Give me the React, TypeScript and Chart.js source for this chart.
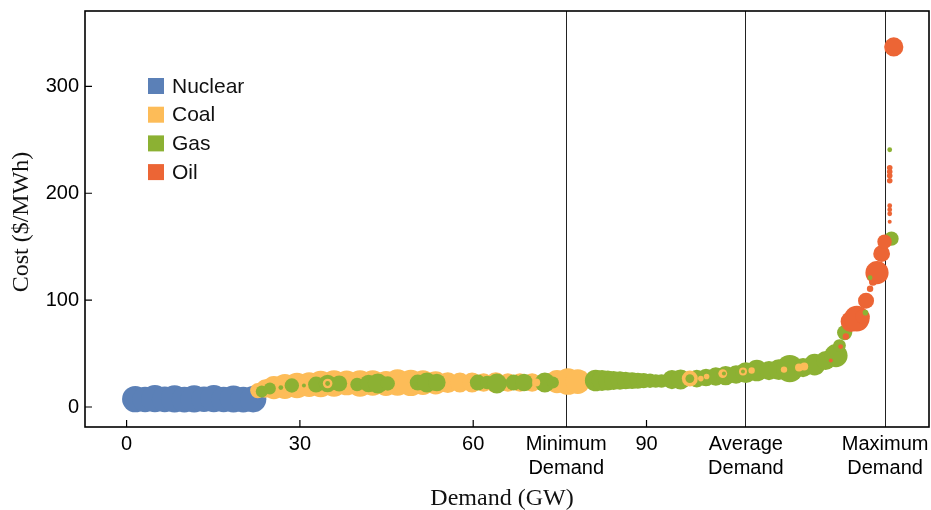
import React, { useEffect, useRef } from "react";
import { Chart, registerables } from "chart.js";

Chart.register(...registerables);

// ---------- data (x: cumulative demand GW, y: cost $/MWh, cap: unit capacity GW) ----------
const nuclearX = [1.5, 3.2, 4.9, 6.6, 8.3, 10.0, 11.7, 13.4, 15.1, 16.8, 18.5, 20.2, 21.9];
const nuclearY = [7.4, 7.0, 7.8, 7.1, 7.7, 6.9, 7.6, 7.2, 7.9, 7.0, 7.5, 6.9, 7.3];
const nuclearCap = [1.65, 1.6, 1.7, 1.6, 1.7, 1.6, 1.7, 1.6, 1.7, 1.6, 1.7, 1.6, 1.65];

const coalX = [22.7, 24.0, 25.5, 27.4, 29.5, 31.6, 33.6, 35.9, 38.1, 40.4, 42.6, 44.9, 46.9, 49.2, 51.3, 53.5, 55.6, 57.7, 59.8, 61.8, 63.9, 66.0, 68.1, 70.2, 72.4, 74.5, 76.4, 78.1];
const coalY = [15.4, 17.3, 18.2, 19.2, 20.1, 21.0, 21.5, 22.0, 22.5, 22.0, 22.4, 22.0, 22.9, 22.6, 22.9, 22.6, 22.9, 22.9, 22.9, 22.9, 22.9, 22.9, 22.9, 22.9, 22.9, 23.8, 23.8, 23.8];
const coalCap = [0.95, 1.15, 1.45, 1.55, 1.6, 1.55, 1.65, 1.65, 1.55, 1.65, 1.6, 1.55, 1.65, 1.65, 1.55, 1.45, 1.3, 1.25, 1.25, 1.15, 1.3, 1.15, 1.15, 1.15, 1.15, 1.45, 1.65, 1.55];

const gasX = [23.4, 24.8, 26.7, 28.6, 30.7, 32.8, 34.8, 36.8, 39.9, 41.9, 43.5, 45.2, 50.4, 52.0, 53.7, 60.8, 62.4, 64.1, 67.0, 68.8, 72.4, 73.8,
  81.2, 82.3, 83.3, 84.3, 85.4, 86.4, 87.5, 88.5, 89.5, 90.6, 91.6, 92.6,
  94.4, 95.9, 98.7, 100.3, 102.0, 103.7, 105.5, 107.2, 109.1, 111.2, 112.9, 114.8, 117.1, 119.1, 121.0, 122.8,
  123.4, 124.3, 125.0, 126.0, 126.9, 132.4, 132.1];
const gasY = [14.5, 17.3, 18.2, 20.1, 20.1, 21.0, 22.0, 22.0, 21.0, 22.0, 22.0, 22.0, 22.9, 22.9, 22.9, 22.9, 22.9, 22.0, 22.9, 22.9, 22.9, 22.9,
  24.8, 24.8, 24.8, 24.8, 24.8, 24.8, 24.6, 24.6, 24.6, 24.6, 24.4, 24.4,
  25.7, 25.7, 26.6, 27.6, 28.5, 29.4, 30.4, 32.2, 34.1, 34.1, 35.0, 36.0, 36.9, 39.7, 43.5, 48.1,
  57.5, 69.6, 79.0, 85.5, 88.3, 157.5, 240.7];
const gasCap = [0.75, 0.75, 0.3, 0.9, 0.25, 1.0, 1.1, 1.0, 0.85, 1.1, 1.25, 0.9, 1.0, 1.25, 1.1, 1.0, 0.85, 1.25, 1.0, 1.1, 1.25, 0.75,
  1.35, 1.3, 1.25, 1.2, 1.15, 1.1, 1.05, 1.0, 0.95, 0.9, 0.85, 0.85,
  1.2, 1.25, 1.1, 1.1, 1.15, 1.2, 1.15, 1.3, 1.35, 1.2, 1.3, 1.7, 1.2, 1.35, 1.2, 1.45,
  0.8, 0.95, 0.65, 0.5, 0.5, 0.9, 0.3];

const coalTopX = [34.8, 70.9, 97.5, 99.4, 100.4, 103.2, 106.7, 108.2, 113.8, 116.4, 117.3];
const coalTopY = [22.0, 22.9, 26.6, 26.6, 28.5, 31.3, 33.2, 34.1, 35.0, 36.9, 37.9];
const coalTopCap = [0.6, 0.5, 1.0, 0.35, 0.35, 0.55, 0.5, 0.4, 0.4, 0.5, 0.5];

const oilX = [121.9, 123.6, 124.5, 125.4, 126.4, 127.4, 128.0, 128.7, 129.2, 129.9, 130.7, 131.2, 132.1, 132.1, 132.1, 132.1, 132.1, 132.1, 132.1, 132.1, 132.8];
const oilY = [43.5, 56.5, 65.9, 79.9, 82.7, 84.6, 99.5, 110.7, 117.3, 125.7, 143.5, 154.7, 173.4, 180.8, 184.6, 188.3, 211.7, 216.4, 220.1, 223.8, 336.9];
const oilCap = [0.25, 0.3, 0.4, 1.3, 1.6, 0.9, 1.0, 0.4, 0.5, 1.45, 1.05, 0.9, 0.25, 0.3, 0.3, 0.3, 0.35, 0.35, 0.35, 0.35, 1.2];

const gasTopX = [34.8, 97.5, 103.4, 106.7, 74.1, 128.7, 127.9];
const gasTopY = [22.0, 26.6, 31.3, 33.2, 23.8, 121.0, 88.3];
const gasTopCap = [0.3, 0.55, 0.25, 0.25, 0.3, 0.3, 0.35];

const xTickValues = [0, 30, 60, 90];
const yTickValues = [0, 100, 200, 300];
const demandMarks = [76.1, 107.2, 131.3];
const demandNames = ["Minimum", "Average", "Maximum"];
const legendNames = ["Nuclear", "Coal", "Gas", "Oil"];

// ---------- styles ----------
const RADIUS_PER_GW = 8;
const COLORS = { nuclear: "#5b80b7", coal: "#fdbc58", gas: "#8cb133", oil: "#ec6535" };
const legendColors = [COLORS.nuclear, COLORS.coal, COLORS.gas, COLORS.oil];
const SANS = "'Liberation Sans', Arial, sans-serif";
const SERIF = "'Liberation Serif', 'Times New Roman', serif";

function toPoints(xs: number[], ys: number[], caps: number[]) {
  return xs.map((x, i) => ({ x, y: ys[i], r: caps[i] * RADIUS_PER_GW }));
}

const decorPlugin = {
  id: "decor",
  afterDraw(chart: any) {
    const { ctx, chartArea: a, scales } = chart;
    const xs = scales.x;
    const ys = scales.y;
    ctx.save();
    ctx.strokeStyle = "#000";
    ctx.lineWidth = 1.6;
    ctx.strokeRect(a.left, a.top, a.right - a.left, a.bottom - a.top);
    ctx.lineWidth = 1.2;
    ctx.beginPath();
    xTickValues.forEach((v) => {
      const p = xs.getPixelForValue(v);
      ctx.moveTo(p, a.bottom);
      ctx.lineTo(p, a.bottom - 7);
    });
    yTickValues.forEach((v) => {
      const p = ys.getPixelForValue(v);
      ctx.moveTo(a.left, p);
      ctx.lineTo(a.left + 7, p);
    });
    ctx.stroke();

    // legend
    const lx = a.left + 63;
    const ly0 = a.top + 75;
    const step = 28.7;
    ctx.font = `21px ${SANS}`;
    ctx.textBaseline = "middle";
    ctx.textAlign = "left";
    legendNames.forEach((name, i) => {
      const cy = ly0 + i * step;
      ctx.fillStyle = legendColors[i];
      ctx.fillRect(lx, cy - 8, 16, 16);
      ctx.fillStyle = "#111";
      ctx.fillText(name, lx + 24, cy + 1);
    });

    // axis titles
    ctx.fillStyle = "#111";
    ctx.font = `24px ${SERIF}`;
    ctx.textAlign = "center";
    ctx.fillText("Demand (GW)", (a.left + a.right) / 2 - 5, 499);
    ctx.translate(22, (a.top + a.bottom) / 2 + 3);
    ctx.rotate(-Math.PI / 2);
    ctx.fillText("Cost ($/MWh)", 0, 0);
    ctx.restore();
  },
};

function zeroPadding(scale: any) {
  scale.paddingTop = 0;
  scale.paddingBottom = 0;
  scale.paddingLeft = 0;
  scale.paddingRight = 0;
}

export default function App() {
  const ref = useRef<HTMLCanvasElement | null>(null);

  useEffect(() => {
    document.body.style.margin = "0";
    const canvas = ref.current;
    if (!canvas) return;
    const mk = (label: string, data: any[], color: string) => ({
      label,
      data,
      backgroundColor: color,
      borderWidth: 0,
      hoverRadius: 0,
    });
    // Chart.js paints the first dataset on top, so the list goes from top layer to bottom layer.
    const chart = new Chart(canvas, {
      type: "bubble",
      data: {
        datasets: [
          mk("Gas", toPoints(gasTopX, gasTopY, gasTopCap), COLORS.gas),
          mk("Oil", toPoints(oilX, oilY, oilCap), COLORS.oil),
          mk("Coal", toPoints(coalTopX, coalTopY, coalTopCap), COLORS.coal),
          mk("Gas", toPoints(gasX, gasY, gasCap), COLORS.gas),
          mk("Coal", toPoints(coalX, coalY, coalCap), COLORS.coal),
          mk("Nuclear", toPoints(nuclearX, nuclearY, nuclearCap), COLORS.nuclear),
        ],
      },
      options: {
        responsive: false,
        animation: false,
        events: [],
        layout: { autoPadding: false, padding: { top: 11, right: 2, left: 0, bottom: 0 } },
        plugins: { legend: { display: false }, tooltip: { enabled: false } },
        scales: {
          x: {
            type: "linear",
            min: -7.2,
            max: 138.9,
            border: { display: false },
            afterBuildTicks: (scale: any) => {
              scale.ticks = [...xTickValues, ...demandMarks].sort((p, q) => p - q).map((v) => ({ value: v }));
            },
            afterFit: (scale: any) => {
              scale.height = 83;
              zeroPadding(scale);
            },
            grid: {
              drawTicks: false,
              lineWidth: 1,
              color: (c: any) => (c.tick && demandMarks.includes(c.tick.value) ? "#222" : "rgba(0,0,0,0)"),
            },
            ticks: {
              autoSkip: false,
              maxRotation: 0,
              minRotation: 0,
              padding: 5,
              color: "#000",
              font: { family: SANS, size: 20 },
              callback: (v: any) => {
                const i = demandMarks.indexOf(Number(v));
                return i >= 0 ? [demandNames[i], "Demand"] : String(v);
              },
            },
          },
          y: {
            type: "linear",
            min: -18.7,
            max: 370.5,
            border: { display: false },
            afterBuildTicks: (scale: any) => {
              scale.ticks = yTickValues.map((v) => ({ value: v }));
            },
            afterFit: (scale: any) => {
              scale.width = 85;
              zeroPadding(scale);
            },
            grid: { display: false, drawTicks: false },
            ticks: {
              padding: 6,
              color: "#000",
              font: { family: SANS, size: 20 },
            },
          },
        },
      },
      plugins: [decorPlugin],
    } as any);
    return () => chart.destroy();
  }, []);

  return (
    <div style={{ position: "fixed", left: 0, top: 0, width: 931, height: 510, background: "#fff" }}>
      <canvas ref={ref} width={931} height={510} style={{ display: "block" }} />
    </div>
  );
}
